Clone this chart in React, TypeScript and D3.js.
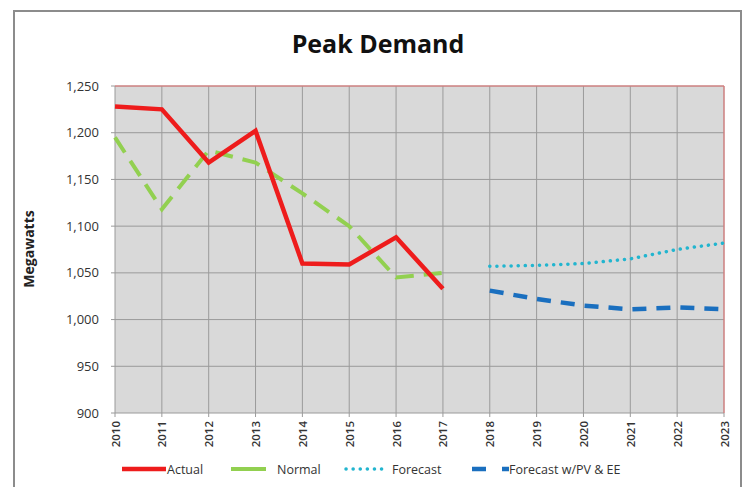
import React, { useEffect, useRef } from 'react';
import * as d3 from 'd3';

const years = [2010, 2011, 2012, 2013, 2014, 2015, 2016, 2017, 2018, 2019, 2020, 2021, 2022, 2023];
const actual = [1228, 1225, 1168, 1202, 1060, 1059, 1088, 1033];
const normal = [1195, 1118, 1181, 1168, 1135, 1100, 1045, 1050];
const forecast = [1057, 1058, 1060, 1065, 1075, 1082];
const forecastPV = [1031, 1022, 1015, 1011, 1013, 1011];
const yTicks = [900, 950, 1000, 1050, 1100, 1150, 1200, 1250];

const width = 744;
const height = 487;
const margin = { top: 86, left: 115, right: 20, bottom: 74 };

export default function App() {
  const ref = useRef<SVGSVGElement>(null);

  useEffect(() => {
    const svg = d3.select(ref.current);
    svg.selectAll('*').remove();

    const x = d3.scaleLinear().domain([2010, 2023]).range([margin.left, width - margin.right]);
    const y = d3.scaleLinear().domain([900, 1250]).range([height - margin.bottom, margin.top]);

    // outer frame
    svg.append('rect')
      .attr('x', 14).attr('y', 11).attr('width', 727).attr('height', 490)
      .attr('fill', 'white').attr('stroke', '#8c8c8c').attr('stroke-width', 2);

    svg.append('text')
      .attr('x', 378).attr('y', 53)
      .attr('text-anchor', 'middle')
      .attr('font-family', 'Open Sans, sans-serif')
      .attr('font-weight', 'bold')
      .attr('font-size', 25)
      .attr('fill', '#111')
      .text('Peak Demand');

    // plot background
    svg.append('rect')
      .attr('x', x(2010)).attr('y', y(1250))
      .attr('width', x(2023) - x(2010)).attr('height', y(900) - y(1250))
      .attr('fill', '#d9d9d9');

    const grid = svg.append('g').attr('stroke', '#9a9a9a').attr('stroke-width', 1);
    grid.selectAll('line.h').data(yTicks).join('line')
      .attr('x1', x(2010) - 4).attr('x2', x(2023))
      .attr('y1', d => y(d)).attr('y2', d => y(d));
    grid.selectAll('line.v').data(years).join('line')
      .attr('x1', d => x(d)).attr('x2', d => x(d))
      .attr('y1', y(1250)).attr('y2', y(900) + 4);

    // red top/right border
    svg.append('path')
      .attr('d', `M${x(2010)},${y(1250)}H${x(2023)}V${y(900)}`)
      .attr('fill', 'none').attr('stroke', '#e57373').attr('stroke-width', 1);

    // y labels
    svg.append('g')
      .attr('font-family', 'Open Sans, sans-serif')
      .attr('font-size', 13)
      .attr('fill', '#333')
      .attr('text-anchor', 'end')
      .selectAll('text').data(yTicks).join('text')
      .attr('x', 99).attr('y', d => y(d) + 4.5)
      .text(d => d3.format(',')(d));

    // x labels
    svg.append('g')
      .attr('font-family', 'Open Sans, sans-serif')
      .attr('font-size', 11.5)
      .attr('font-weight', 600)
      .attr('fill', '#333')
      .attr('text-anchor', 'end')
      .selectAll('text').data(years).join('text')
      .attr('transform', d => `translate(${x(d) + 4.5},${y(900) + 8}) rotate(-90)`)
      .text(d => d);

    svg.append('text')
      .attr('transform', `translate(34,249) rotate(-90)`)
      .attr('text-anchor', 'middle')
      .attr('font-family', 'Open Sans, sans-serif')
      .attr('font-weight', 'bold')
      .attr('font-size', 14)
      .attr('fill', '#222')
      .text('Megawatts');

    const line = d3.line<[number, number]>().x(d => x(d[0])).y(d => y(d[1]));
    const series = [
      { data: normal, start: 2010, color: '#92d050', w: 4, dash: '18,10', cap: 'butt' },
      { data: actual, start: 2010, color: '#ee1c1c', w: 4.5, dash: null, cap: 'butt' },
      { data: forecast, start: 2018, color: '#22b5cf', w: 3.5, dash: '0.1,7', cap: 'round' },
      { data: forecastPV, start: 2018, color: '#1a6fbf', w: 4.5, dash: '14,10', cap: 'butt' },
    ];
    series.forEach(s => {
      svg.append('path')
        .datum(s.data.map((v, i) => [s.start + i, v] as [number, number]))
        .attr('d', line)
        .attr('fill', 'none')
        .attr('stroke', s.color)
        .attr('stroke-width', s.w)
        .attr('stroke-linejoin', 'miter')
        .attr('stroke-linecap', s.cap)
        .attr('stroke-dasharray', s.dash);
    });

    // legend
    const legend = [
      { name: 'Actual', color: '#ee1c1c', w: 4.5, dash: null, cap: 'butt', x1: 122, x2: 166, tx: 167 },
      { name: 'Normal', color: '#92d050', w: 4, dash: null, cap: 'butt', x1: 231, x2: 266, tx: 277 },
      { name: 'Forecast', color: '#22b5cf', w: 3.5, dash: '0.1,7', cap: 'round', x1: 346, x2: 385, tx: 392 },
      { name: 'Forecast w/PV & EE', color: '#1a6fbf', w: 4.5, dash: '14,16', cap: 'butt', x1: 472, x2: 509, tx: 509 },
    ];
    const lg = svg.append('g');
    legend.forEach(l => {
      lg.append('line')
        .attr('x1', l.x1).attr('x2', l.x2).attr('y1', 469).attr('y2', 469)
        .attr('stroke', l.color).attr('stroke-width', l.w)
        .attr('stroke-linecap', l.cap)
        .attr('stroke-dasharray', l.dash);
      lg.append('text')
        .attr('x', l.tx).attr('y', 474)
        .attr('font-family', 'Open Sans, sans-serif')
        .attr('font-size', 12.5)
        .attr('fill', '#333')
        .text(l.name);
    });
  }, []);

  return (
    <svg ref={ref} width={width} height={height} style={{ position: 'absolute', left: 0, top: 0 }} />
  );
}
